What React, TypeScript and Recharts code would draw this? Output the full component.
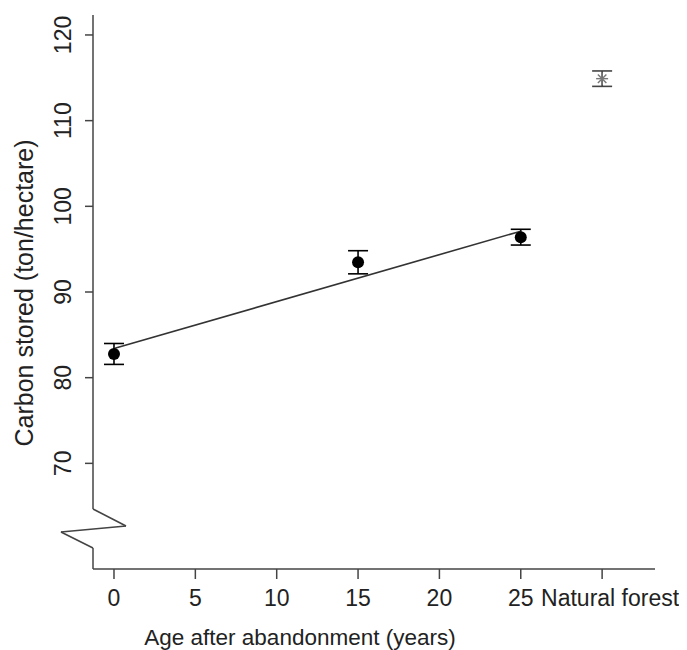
import React from "react";
import {
  ScatterChart,
  Scatter,
  XAxis,
  YAxis,
  ErrorBar,
  ReferenceLine,
} from "recharts";

// Chronosequence data (years after abandonment)
const ages = [0, 15, 25];
const carbonMeans = [82.77, 93.47, 96.4];
const carbonErrors = [1.22, 1.35, 0.92];

// Natural forest reference (plotted at position 30)
const forestPosition = [30];
const forestMean = [114.9];
const forestError = [0.9];

// Fitted regression line endpoints
const fitX = [0, 25];
const fitY = [83.4, 97.1];

// Axis ticks
const xTicks = [0, 5, 10, 15, 20, 25, 30];
const xTickLabels = ["0", "5", "10", "15", "20", "25", "Natural forest"];
const yTicks = [70, 80, 90, 100, 110, 120];

// Broken y-axis path (data coordinates)
const axisBreakX = [-1.29, -1.29, 0.74, -3.26, -1.29, -1.29];
const axisBreakY = [122.33, 64.67, 62.69, 61.99, 60.12, 57.67];

const X_DOMAIN: [number, number] = [-1.29, 33.25];
const Y_DOMAIN: [number, number] = [57.67, 122.33];

const obsData = ages.map((x, i) => ({ x, y: carbonMeans[i], err: carbonErrors[i] }));
const forestData = forestPosition.map((x, i) => ({ x, y: forestMean[i], err: forestError[i] }));
const fitData = fitX.map((x, i) => ({ x, y: fitY[i] }));

const FONT = "'Liberation Sans', Arial, Helvetica, sans-serif";
const TEXT = "#222";
const AXIS = "#444";

const Dot = (props: any) => {
  const { cx, cy } = props;
  if (cx == null || cy == null) return null;
  return <circle cx={cx} cy={cy} r={6} fill="#000" />;
};

const Star = (props: any) => {
  const { cx, cy } = props;
  if (cx == null || cy == null) return null;
  const r = 6;
  const d = r * 0.707;
  return (
    <g stroke="#777" strokeWidth={1.4}>
      <line x1={cx - r} y1={cy} x2={cx + r} y2={cy} />
      <line x1={cx} y1={cy - r} x2={cx} y2={cy + r} />
      <line x1={cx - d} y1={cy - d} x2={cx + d} y2={cy + d} />
      <line x1={cx - d} y1={cy + d} x2={cx + d} y2={cy - d} />
    </g>
  );
};

const NoShape = () => null;

const XTick = (props: any) => {
  const { x, y, payload } = props;
  const idx = xTicks.indexOf(payload.value);
  const label = idx >= 0 ? xTickLabels[idx] : String(payload.value);
  const shift = label.length > 3 ? 8 : 0;
  return (
    <text
      x={x + shift}
      y={y + 25}
      textAnchor="middle"
      fontSize={23}
      fontFamily={FONT}
      fill={TEXT}
    >
      {label}
    </text>
  );
};

const YTick = (props: any) => {
  const { x, y, payload } = props;
  const tx = x - 12;
  return (
    <text
      x={tx}
      y={y}
      textAnchor="middle"
      fontSize={23}
      fontFamily={FONT}
      fill={TEXT}
      transform={`rotate(-90, ${tx}, ${y})`}
    >
      {payload.value}
    </text>
  );
};

export default function App() {
  const segs = axisBreakX.slice(0, -1).map((x, i) => [
    { x, y: axisBreakY[i] },
    { x: axisBreakX[i + 1], y: axisBreakY[i + 1] },
  ]);
  return (
    <div style={{ width: 687, height: 642, position: "relative" }}>
      <ScatterChart
        width={687}
        height={642}
        margin={{ top: 7, right: 40, bottom: 0, left: 0 }}
      >
        <XAxis
          type="number"
          dataKey="x"
          domain={X_DOMAIN}
          ticks={xTicks}
          allowDataOverflow
          tickSize={10}
          tick={<XTick />}
          height={81}
          stroke={AXIS}
          axisLine={{ stroke: AXIS, strokeWidth: 1.5 }}
          tickLine={{ stroke: AXIS, strokeWidth: 1.5 }}
        />
        <YAxis
          type="number"
          dataKey="y"
          domain={Y_DOMAIN}
          ticks={yTicks}
          allowDataOverflow
          width={85}
          tickSize={8}
          tick={<YTick />}
          axisLine={false}
          tickLine={{ stroke: AXIS, strokeWidth: 1.5 }}
        />
        {segs.map((s, i) => (
          <ReferenceLine
            key={i}
            segment={s}
            stroke={AXIS}
            strokeWidth={1.5}
            ifOverflow="visible"
          />
        ))}
        <Scatter
          data={fitData}
          line={{ stroke: "#333", strokeWidth: 1.6 }}
          shape={<NoShape />}
          isAnimationActive={false}
        />
        <Scatter data={obsData} shape={<Dot />} isAnimationActive={false}>
          <ErrorBar dataKey="err" direction="y" width={10} stroke="#000" strokeWidth={1.6} />
        </Scatter>
        <Scatter data={forestData} shape={<Star />} isAnimationActive={false}>
          <ErrorBar dataKey="err" direction="y" width={10} stroke="#444" strokeWidth={1.6} />
        </Scatter>
      </ScatterChart>
      <svg
        width={687}
        height={642}
        style={{ position: "absolute", left: 0, top: 0, pointerEvents: "none" }}
      >
        <text
          x={292}
          y={637}
          textAnchor="middle"
          fontSize={22.5}
          fontFamily={FONT}
          fill={TEXT}
        >
          Age after abandonment (years)
        </text>
        <text
          x={25}
          y={285}
          textAnchor="middle"
          fontSize={25}
          fontFamily={FONT}
          fill={TEXT}
          transform="rotate(-90, 25, 285)"
        >
          Carbon stored (ton/hectare)
        </text>
      </svg>
    </div>
  );
}
